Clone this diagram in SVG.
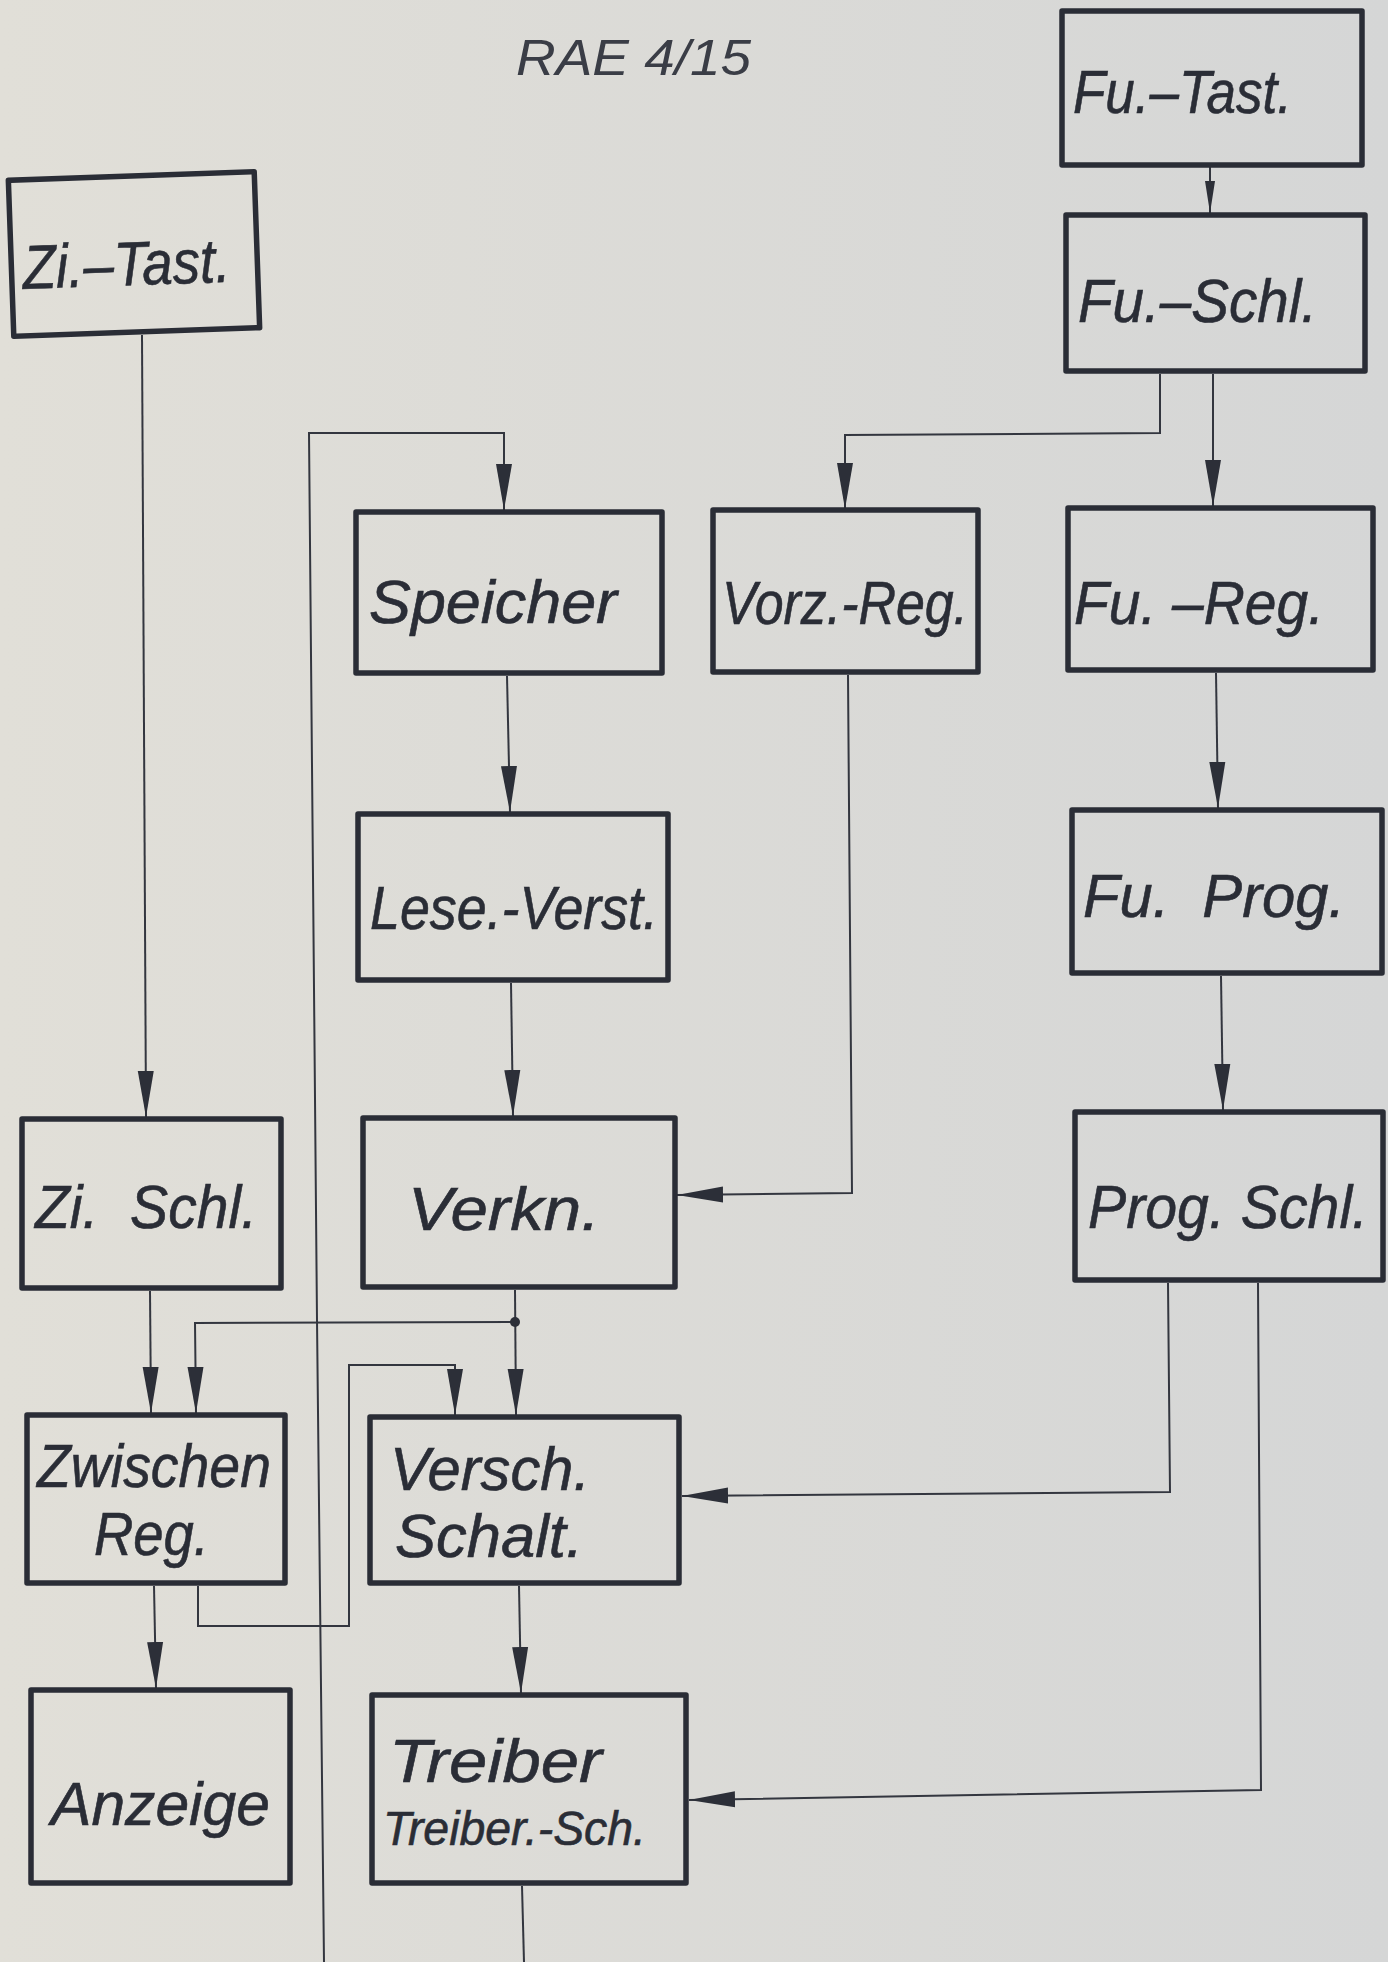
<svg xmlns="http://www.w3.org/2000/svg" width="1388" height="1962" viewBox="0 0 1388 1962">
<defs>
<linearGradient id="paper" x1="0" y1="0" x2="1" y2="0">
<stop offset="0" stop-color="#e1dfd8"/>
<stop offset="1" stop-color="#d5d6d6"/>
</linearGradient>
<marker id="arr" markerUnits="userSpaceOnUse" markerWidth="48" markerHeight="20" refX="46" refY="9" orient="auto">
<path d="M0,1 L46,9 L0,17 z" fill="#2c2f38"/>
</marker>
<marker id="arrs" markerUnits="userSpaceOnUse" markerWidth="34" markerHeight="14" refX="32" refY="6" orient="auto">
<path d="M0,1 L32,6 L0,11 z" fill="#2c2f38"/>
</marker>
<style>
.box{fill:none;stroke:#2a2d36;stroke-width:5.5;stroke-linejoin:round}
.lbl{font-family:"Liberation Sans",Arial,sans-serif;font-style:italic;fill:#2a2d36;stroke:#2a2d36;stroke-width:0.6;font-size:62px}
.sm{font-size:48px}
.ln{fill:none;stroke:#33363f;stroke-width:2}
</style>
</defs>
<rect x="0" y="0" width="1388" height="1962" fill="url(#paper)"/>
<text x="516" y="75" font-family="'Liberation Sans',Arial,sans-serif" font-style="italic" font-size="50" fill="#3a3d46" textLength="235" lengthAdjust="spacingAndGlyphs">RAE 4/15</text>

<g id="connectors">
<path class="ln" marker-end="url(#arrs)" d="M1210,167 L1210,213"/>
<path class="ln" marker-end="url(#arr)" d="M1160,374 L1160,433 L845,435 L845,509"/>
<path class="ln" marker-end="url(#arr)" d="M1213,374 L1213,506"/>
<path class="ln" marker-end="url(#arr)" d="M324,1962 L317,1320 L309,433 L504,433 L504,510"/>
<path class="ln" marker-end="url(#arr)" d="M142,335 L146,1117"/>
<path class="ln" marker-end="url(#arr)" d="M507,676 L510,812"/>
<path class="ln" marker-end="url(#arr)" d="M511,983 L513,1116"/>
<path class="ln" marker-end="url(#arr)" d="M848,675 L852,1193 L677,1195"/>
<path class="ln" marker-end="url(#arr)" d="M1216,673 L1218,808"/>
<path class="ln" marker-end="url(#arr)" d="M1221,976 L1223,1110"/>
<path class="ln" marker-end="url(#arr)" d="M150,1291 L151,1413"/>
<path class="ln" marker-end="url(#arr)" d="M515,1290 L516,1415"/>
<path class="ln" marker-end="url(#arr)" d="M515,1322 L195,1323 L196,1413"/>
<circle cx="515" cy="1322" r="5" fill="#2c2f38"/>
<path class="ln" marker-end="url(#arr)" d="M198,1586 L198,1626 L349,1626 L349,1365 L455,1365 L455,1415"/>
<path class="ln" marker-end="url(#arr)" d="M1168,1283 L1170,1492 L682,1496"/>
<path class="ln" marker-end="url(#arr)" d="M1258,1283 L1261,1790 L689,1800"/>
<path class="ln" marker-end="url(#arr)" d="M519,1586 L521,1693"/>
<path class="ln" marker-end="url(#arr)" d="M154,1586 L156,1688"/>
<path class="ln" d="M522,1886 L524,1962"/>
</g>

<g id="fu_tast"><rect class="box" x="1062" y="11" width="300" height="154"/><text class="lbl" x="1073" y="113" textLength="219" lengthAdjust="spacingAndGlyphs">Fu.–Tast.</text></g>
<g id="fu_schl"><rect class="box" x="1066" y="215" width="299" height="156"/><text class="lbl" x="1078" y="322" textLength="239" lengthAdjust="spacingAndGlyphs">Fu.–Schl.</text></g>
<g id="zi_tast" transform="rotate(-2 134 254)"><rect class="box" x="11" y="176" width="246" height="156"/><text class="lbl" x="22" y="285" textLength="208" lengthAdjust="spacingAndGlyphs">Zi.–Tast.</text></g>
<g id="speicher"><rect class="box" x="356" y="512" width="306" height="161"/><text class="lbl" x="369" y="623" textLength="248" lengthAdjust="spacingAndGlyphs">Speicher</text></g>
<g id="vorz_reg"><rect class="box" x="713" y="510" width="265" height="162"/><text class="lbl" x="722" y="624" textLength="246" lengthAdjust="spacingAndGlyphs">Vorz.-Reg.</text></g>
<g id="fu_reg"><rect class="box" x="1068" y="508" width="305" height="162"/><text class="lbl" x="1074" y="624" textLength="250" lengthAdjust="spacingAndGlyphs">Fu. –Reg.</text></g>
<g id="lese_verst"><rect class="box" x="358" y="814" width="310" height="166"/><text class="lbl" x="370" y="929" textLength="288" lengthAdjust="spacingAndGlyphs">Lese.-Verst.</text></g>
<g id="fu_prog"><rect class="box" x="1072" y="810" width="310" height="163"/><text class="lbl" x="1083" y="917" textLength="262" lengthAdjust="spacingAndGlyphs" xml:space="preserve">Fu.  Prog.</text></g>
<g id="zi_schl"><rect class="box" x="22" y="1119" width="259" height="169"/><text class="lbl" x="35" y="1228" textLength="222" lengthAdjust="spacingAndGlyphs" xml:space="preserve">Zi.  Schl.</text></g>
<g id="verkn"><rect class="box" x="363" y="1118" width="312" height="169"/><text class="lbl" x="408" y="1230" textLength="192" lengthAdjust="spacingAndGlyphs">Verkn.</text></g>
<g id="prog_schl"><rect class="box" x="1075" y="1112" width="308" height="168"/><text class="lbl" x="1088" y="1228" textLength="280" lengthAdjust="spacingAndGlyphs">Prog. Schl.</text></g>
<g id="zwischen_reg"><rect class="box" x="27" y="1415" width="258" height="168"/><text class="lbl" x="37" y="1487" textLength="234" lengthAdjust="spacingAndGlyphs">Zwischen</text><text class="lbl" x="94" y="1555" textLength="115" lengthAdjust="spacingAndGlyphs">Reg.</text></g>
<g id="versch_schalt"><rect class="box" x="370" y="1417" width="309" height="166"/><text class="lbl" x="390" y="1490" textLength="200" lengthAdjust="spacingAndGlyphs">Versch.</text><text class="lbl" x="395" y="1557" textLength="188" lengthAdjust="spacingAndGlyphs">Schalt.</text></g>
<g id="anzeige"><rect class="box" x="31" y="1690" width="259" height="193"/><text class="lbl" x="51" y="1825" textLength="219" lengthAdjust="spacingAndGlyphs">Anzeige</text></g>
<g id="treiber"><rect class="box" x="372" y="1695" width="314" height="188"/><text class="lbl" x="389" y="1782" textLength="213" lengthAdjust="spacingAndGlyphs">Treiber</text><text class="lbl sm" x="383" y="1845" textLength="263" lengthAdjust="spacingAndGlyphs">Treiber.-Sch.</text></g>
</svg>
